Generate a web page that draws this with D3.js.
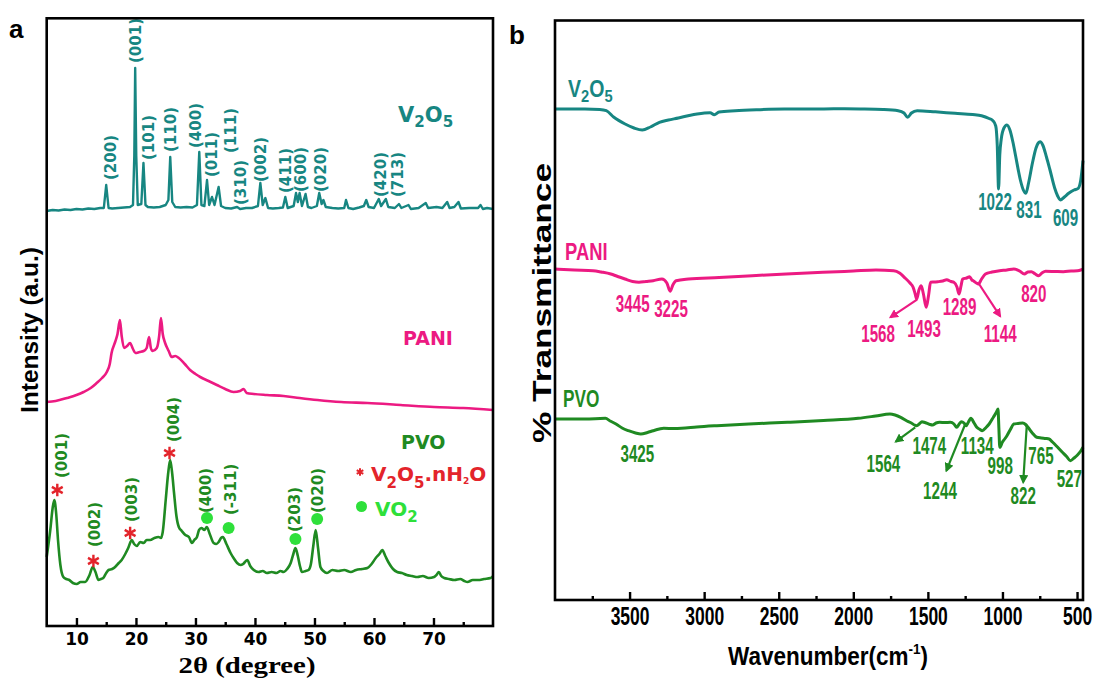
<!DOCTYPE html>
<html><head><meta charset="utf-8">
<script src="https://cdn.jsdelivr.net/npm/d3@7"></script>
<style>body{margin:0;background:#fff}</style>
</head><body>
<svg id="c" width="1095" height="679"></svg>
<script>
// ---------------- DATA ----------------
const xrdTicks = [10, 20, 30, 40, 50, 60, 70];
const xrdMinor = [15, 25, 35, 45, 55, 65, 75];
const ftirTicks = [3500, 3000, 2500, 2000, 1500, 1000, 500];
const ftirMinor = [3750, 3250, 2750, 2250, 1750, 1250, 750];

// XRD [2theta, intensity a.u.]
const xrdV2O5 = [[5,415],[6,416],[7,415.5],[8,416.5],[9,416],[10,417],[11,416.5],[12,417.5],[13,417],[14,418],[14.6,418],[15.0,441],[15.4,418],[16,417.5],[17,418],[18,418.5],[19,419],[19.5,421],[19.72,470],[19.87,558],[20.05,470],[20.3,421],[20.9,422],[21.26,463],[21.6,421],[22,419],[23,418.5],[24,419],[25,421],[25.45,426],[25.76,469],[26.1,424],[26.6,419],[27.5,418.5],[28.5,419],[29.5,418.5],[30.25,421],[30.64,474],[31.0,421],[31.5,420],[31.94,446],[32.3,421],[32.78,429],[33.2,421],[33.89,439],[34.3,420],[35,418],[36,417.5],[37.0,419],[37.5,417],[38.5,418],[39.5,418],[40.5,420],[40.9,443],[41.3,421],[41.75,428],[42.2,418],[43,417.5],[44,418],[44.7,418.5],[45.1,429],[45.5,418],[46.5,420],[46.9,433],[47.2,424],[47.5,433],[47.9,420],[48.5,432],[48.9,419],[49.5,418],[50.4,420],[50.8,433],[51.2,422],[51.5,426],[51.9,419],[53,418],[54,417.5],[55,418],[55.3,426],[55.7,418],[56.5,417],[57.5,418.5],[58.3,420],[58.7,426],[59.1,419],[60,418],[60.8,427],[61.2,420],[62.0,427],[62.4,419],[63.5,418],[64.2,422],[64.6,418],[65.8,421],[66.2,417],[67.5,418],[68.7,423],[69.1,418],[70.5,419],[71.5,418],[72.3,424],[72.7,418],[73.5,419],[74.2,424],[74.6,417.5],[76,418],[77.5,418],[77.9,421],[78.3,417],[79,418],[80,417]];

const xrdPANI = [[5.0,224],[6.5,225],[8.4,228],[10,231],[11.2,234],[12.4,238],[13.4,243],[14.3,248],[15.1,254],[15.6,262],[15.9,273],[16.5,284],[16.9,292],[17.3,306],[17.6,290],[18.0,278],[18.5,280],[19.0,283],[19.5,277],[19.9,273],[20.6,274],[21.3,275],[21.8,278],[22.2,289],[22.5,278],[22.8,275],[23.5,278],[23.9,290],[24.2,308],[24.5,292],[24.9,283],[25.5,275],[26.0,269],[26.6,270],[27.2,268],[28.2,262],[29.1,256],[30.0,252],[30.8,249],[32.2,245],[33.6,241],[35.0,237],[36.4,234],[37.5,235],[38.1,237],[38.6,233],[39.8,232],[42,231],[44.8,230],[47.5,228],[50.5,226],[54.5,224],[58.9,223],[64.5,221],[70.1,219],[75,218],[80.0,216]];

const xrdPVO = [[5.0,69],[5.6,96],[6.0,118],[6.28,126],[6.6,112],[6.9,86],[7.3,61],[7.8,49],[8.3,47],[8.8,46],[9.4,43],[10.05,42],[10.7,44],[11.45,44],[12.2,51],[12.74,59],[13.2,54],[13.7,46],[14.1,47],[14.5,48],[15.0,53],[15.4,56],[16.0,57],[16.5,59],[17.1,63],[17.6,66],[18.2,72],[18.7,78],[19.3,86],[19.7,82],[20.15,80],[20.7,84],[21.3,83],[21.8,86],[22.4,86],[23.1,88],[23.8,89],[24.2,88],[24.5,94],[25.0,126],[25.4,152],[25.75,166],[26.1,152],[26.4,133],[26.8,110],[27.2,99],[27.7,95],[28.3,91],[28.9,89],[29.4,83],[29.8,86],[30.25,89],[30.6,96],[31.0,98],[31.5,96],[31.9,99],[32.4,92],[33.05,83],[33.5,82],[33.9,84],[34.3,88],[34.6,89],[35.2,82],[35.9,73],[36.4,68],[37.0,63],[37.6,61],[38.0,62],[38.7,66],[39.2,60],[39.8,56],[40.6,54],[41.3,55],[42.0,53],[42.8,54],[43.6,53],[44.3,55],[44.8,54],[45.4,57],[46.0,63],[46.4,71],[46.8,78],[47.2,70],[47.6,59],[47.9,54],[48.5,55],[49.0,56],[49.4,62],[49.8,80],[50.2,96],[50.6,78],[51.0,59],[51.5,55],[52.1,53],[53.0,56],[54.0,55],[55.0,56],[56.1,54],[57.0,56],[58.0,57],[58.9,58],[59.6,62],[60.3,68],[60.9,72],[61.4,76],[61.9,70],[62.5,63],[63.2,57],[63.9,54],[64.7,53],[65.5,51],[66.4,50],[67.3,49],[68.2,50],[69.2,48],[70.1,49],[70.5,51],[70.9,54],[71.3,50],[71.8,48],[72.6,47],[73.5,46],[74.5,47],[75.2,45],[75.7,44],[76.6,46],[77.5,46],[78.5,47],[79.6,48],[80,50]];

// FTIR [wavenumber, transmittance a.u.]
const ftirV2O5 = [[4000,491],[3800,491],[3700,490.5],[3656,489.3],[3605,482.7],[3530,476],[3470,472],[3415,470],[3360,473],[3300,477.7],[3240,480],[3173,482],[3100,484.5],[3047,486],[2960,487.3],[2932,485.3],[2900,488],[2792,489.3],[2650,490.3],[2462,491],[2300,491],[2100,491.2],[1954,491],[1800,490.5],[1699,489.3],[1660,487],[1636,482.7],[1610,487],[1572,489.3],[1450,488.2],[1318,486.7],[1200,485.5],[1140,484.3],[1090,481.5],[1064,479.3],[1045,474],[1035,455],[1026,411],[1018,445],[1008,461],[990,472],[970,475],[950,470],[930,458],[912,444.3],[880,420],[860,410],[843,406.7],[825,417],[798,437.7],[775,452],[760,457],[747,458.3],[730,455],[705,443],[683,431],[650,412],[630,404],[612,400],[585,403],[556,406.7],[520,410],[492,411.7],[475,420],[460,439.3]];

const ftirPANI = [[4000,331],[3870,330],[3745,329.3],[3690,328],[3626,326],[3580,323.5],[3531,321],[3480,318.5],[3437,317.7],[3390,318.5],[3342,319.3],[3283,321],[3250,317],[3228,308.7],[3210,315],[3188,319.3],[3105,321],[2900,322.5],[2678,324.3],[2450,326],[2204,327.7],[2000,329],[1848,330],[1729,329.3],[1690,327],[1658,322.7],[1620,317],[1599,312.7],[1585,306],[1575,301],[1560,310],[1545,314.3],[1530,306],[1511,292.7],[1495,305],[1482,317.7],[1460,318],[1433,318.3],[1400,319],[1374,320.3],[1345,318.5],[1326,317.7],[1305,313],[1291,306],[1278,314],[1267,321],[1240,322],[1220,323.3],[1205,320],[1196,319.3],[1175,317],[1161,316],[1140,321],[1114,326],[1070,328],[1019,329.3],[970,330],[924,331],[885,329],[853,326],[830,328],[806,328.3],[780,326],[758,324.3],[735,327],[711,328.7],[650,328.5],[592,328.3],[540,329],[497,329.3],[475,330],[460,331]];

const ftirPVO = [[4000,181],[3800,181],[3662,181.7],[3630,179],[3591,176],[3550,172],[3508,169.3],[3460,167],[3425,166],[3380,167.5],[3342,169.3],[3300,171],[3271,171.7],[3200,171.5],[3152,171.7],[3050,173],[2915,174.3],[2700,176],[2441,177.7],[2200,179.5],[1967,181.7],[1850,184],[1754,186],[1720,185],[1682,182.7],[1640,179],[1611,177],[1590,175],[1575,174.3],[1555,176.5],[1540,178.3],[1520,177.5],[1504,176.7],[1485,175.5],[1469,175],[1445,177],[1421,177.7],[1385,177.5],[1350,177.7],[1325,176],[1307,172.7],[1290,176],[1275,178.3],[1258,177],[1244,174.3],[1228,178],[1212,181.7],[1190,177],[1172,172.7],[1150,170.5],[1136,169.3],[1110,172.5],[1089,176],[1060,183],[1040,188],[1030,191],[1024,172],[1018,152.7],[1000,158],[985,161],[970,164.3],[945,171],[924,176],[895,176.5],[864,177],[845,175.5],[829,172.7],[800,167],[770,162.7],[740,162],[710,161.5],[687,161],[665,158],[640,154.3],[600,148],[570,143.5],[545,139.3],[520,142],[497,145],[475,149],[460,152.7]];

// Peak annotations: [label, position on x data, position on y data]
const xrdV2O5Labels = [["(200)",15.66,446],["(001)",19.87,563],["(101)",22.05,466],["(110)",25.76,474],["(400)",29.97,478],["(011)",32.66,449],["(111)",35.86,473],["(310)",37.66,421],["(002)",40.9,444],["(411)",45.1,433],["(600)",47.64,434],["(020)",51.0,434],["(420)",61.1,429],["(713)",63.97,429]];
const xrdPVOLabels = [["(001)",7.53,148],["(002)",13.01,79],["(003)",19.19,104],["(004)",26.31,184],["(400)",31.65,113],["(-311)",35.86,111],["(203)",46.68,94],["(020)",50.45,113]];
const hydrateMarks = [[6.78,136],[12.85,65],[19.02,93],[25.64,173]];
const vo2Marks = [[31.94,108],[35.57,98],[46.8,87],[50.45,107]];

const ftirV2O5Labels = [["1022",1050,398],["831",822,390.5],["609",577,382]];
const ftirPANILabels = [["3445",3479,296],["3225",3222,291],["1568",1834,266],["1493",1526,271],["1289",1288,293.7],["1144",1015,266],["820",790,306]];
const ftirPVOLabels = [["3425",3448,146],["1564",1798,136],["1474",1490,154.3],["1244",1419,109.3],["1134",1169,154.3],["998",1015,134.3],["765",742,144.3],["822",861,104.3],["527",552,121]];
const ftirPANIArrows = [[1573,300.3,1751,282.7],[1157,316,1015,283.7]];
const ftirPVOArrows = [[1585,172.7,1715,158.3],[1252,175,1376,129.3],[837,174.3,861,117.7]];

// ---------------- DRAWING ----------------
const C = {teal:"#178682", pink:"#ec1a82", green:"#1f8a22", red:"#e3242b", lime:"#2ee03a"};
const svg = d3.select("#c");
const SANS = "'Liberation Sans', Arial, sans-serif";
const DV = "'DejaVu Sans', sans-serif";

const defs = svg.append("defs");
[["pink",C.pink],["green",C.green]].forEach(([n,col])=>{
  defs.append("marker").attr("id","arr-"+n).attr("viewBox","0 0 10 10").attr("refX",8).attr("refY",5)
    .attr("markerWidth",4.2).attr("markerHeight",4.2).attr("orient","auto-start-reverse")
    .append("path").attr("d","M0,0 L10,5 L0,10 Z").attr("fill",col);
});

function condText(x, y, str, size, sx, col, anchor, family){
  const g = svg.append("g").attr("transform",`translate(${x},${y}) scale(${sx},1)`);
  const t = g.append("text").attr("font-family",family||SANS).attr("font-weight","bold").attr("font-size",size)
    .attr("fill",col||"#000").attr("text-anchor",anchor||"start");
  if (str !== null) t.text(str);
  return t;
}

// ===== Panel a (XRD) =====
const xa = d3.scaleLinear([5, 80], [46.7, 493]);
const ya = d3.scaleLinear([0, 608], [626, 18]);
const lineA = d3.line().x(d=>xa(d[0])).y(d=>ya(d[1]));

svg.append("path").datum(xrdV2O5).attr("d",lineA).attr("fill","none").attr("stroke",C.teal).attr("stroke-width",2.4).attr("stroke-linejoin","round");
svg.append("path").datum(xrdPANI).attr("d",d3.line().x(d=>xa(d[0])).y(d=>ya(d[1])).curve(d3.curveMonotoneX)).attr("fill","none").attr("stroke",C.pink).attr("stroke-width",2.6);
svg.append("path").datum(xrdPVO).attr("d",d3.line().x(d=>xa(d[0])).y(d=>ya(d[1])).curve(d3.curveMonotoneX)).attr("fill","none").attr("stroke",C.green).attr("stroke-width",2.6).attr("stroke-linejoin","round");

function rotLabels(list, col, xs, ys){
  svg.append("g").selectAll("text").data(list).join("text")
    .attr("transform",d=>`translate(${xs(d[1])},${ys(d[2])}) rotate(-90)`)
    .attr("dy","0.36em").attr("font-family",DV).attr("font-weight","bold").attr("font-size",15)
    .attr("fill",col).text(d=>d[0]);
}
rotLabels(xrdV2O5Labels, C.teal, xa, ya);
rotLabels(xrdPVOLabels, C.green, xa, ya);

svg.append("g").selectAll("path").data(hydrateMarks).join("path")
  .attr("transform",d=>`translate(${xa(d[0])},${ya(d[1])})`)
  .attr("d",d3.symbol(d3.symbolAsterisk,110)).attr("stroke",C.red).attr("stroke-width",2.4).attr("fill","none");
svg.append("g").selectAll("circle").data(vo2Marks).join("circle")
  .attr("cx",d=>xa(d[0])).attr("cy",d=>ya(d[1])).attr("r",6).attr("fill",C.lime);

function subText(x, y, parts, size, col, family){
  const t = svg.append("text").attr("x",x).attr("y",y).attr("font-family",family).attr("font-weight","bold").attr("font-size",size).attr("fill",col);
  parts.forEach(p=>{
    t.append("tspan").attr("font-size",p[1]*size).attr("dy",p[2]).text(p[0]);
  });
  return t;
}
subText(398, 122, [["V",1,0],["2",0.72,5],["O",1,-5],["5",0.72,5]], 21, C.teal, DV);
svg.append("text").attr("x",403).attr("y",345).attr("font-family",DV).attr("font-weight","bold").attr("font-size",19).attr("fill",C.pink).text("PANI");
svg.append("text").attr("x",401).attr("y",448.5).attr("font-family",DV).attr("font-weight","bold").attr("font-size",19).attr("fill",C.green).text("PVO");
// legend
svg.append("path").attr("transform","translate(360,472)").attr("d",d3.symbol(d3.symbolAsterisk,40)).attr("stroke",C.red).attr("stroke-width",2).attr("fill","none");
subText(371, 481, [["V",1,0],["2",0.75,7],["O",1,-7],["5",0.75,7],[".nH",1,-7],["2",0.45,3],["O",1,-3]], 20, C.red, DV);
svg.append("circle").attr("cx",361.5).attr("cy",506.5).attr("r",5.5).attr("fill",C.lime);
subText(375, 516, [["VO",1,0],["2",0.75,6]], 20, C.lime, DV);

// axes panel a
const axA = svg.append("g").attr("transform","translate(0,626)");
axA.call(d3.axisBottom(xa).tickValues(xrdTicks).tickSizeInner(-8).tickSizeOuter(0).tickPadding(7).tickFormat(d3.format("d")));
axA.append("g").call(d3.axisBottom(xa).tickValues(xrdMinor).tickSizeInner(-4).tickSizeOuter(0).tickFormat(""));
axA.selectAll(".domain").remove();
axA.selectAll(".tick line").attr("stroke","#000").attr("stroke-width",2.4);
axA.selectAll(".tick text").attr("font-family",DV).attr("font-weight","bold").attr("font-size",17).attr("fill","#000");
svg.append("rect").attr("x",46.7).attr("y",18.3).attr("width",493-46.7).attr("height",626-18.3).attr("fill","none").attr("stroke","#000").attr("stroke-width",2.6);

svg.append("text").attr("x",247).attr("y",673).attr("text-anchor","middle").attr("font-family","'Liberation Serif', 'Times New Roman', serif").attr("font-weight","bold").attr("font-size",24).attr("textLength",137).attr("lengthAdjust","spacingAndGlyphs").text("2θ (degree)");
svg.append("text").attr("transform","translate(30,330) rotate(-90)").attr("dy","0.36em").attr("text-anchor","middle").attr("font-family",SANS).attr("font-weight","bold").attr("font-size",23).attr("textLength",166).attr("lengthAdjust","spacingAndGlyphs").text("Intensity (a.u.)");
svg.append("text").attr("x",9).attr("y",38).attr("font-family",SANS).attr("font-weight","bold").attr("font-size",26).text("a");

// ===== Panel b (FTIR) =====
const xb = d3.scaleLinear([4000, 460], [555, 1083]);
const yb = d3.scaleLinear([0, 580], [600, 20]);
const lineB = d3.line().x(d=>xb(d[0])).y(d=>yb(d[1])).curve(d3.curveMonotoneX);
[[ftirV2O5,C.teal],[ftirPANI,C.pink],[ftirPVO,C.green]].forEach(([data,col])=>{
  svg.append("path").datum(data).attr("d",lineB).attr("fill","none").attr("stroke",col).attr("stroke-width",3).attr("stroke-linejoin","round");
});

function numLabels(list, col){
  svg.append("g").selectAll("g").data(list).join("g")
    .attr("transform",d=>`translate(${xb(d[1])},${yb(d[2])}) scale(0.66,1)`)
    .append("text").attr("dy","0.36em").attr("text-anchor","middle")
    .attr("font-family",SANS).attr("font-weight","bold").attr("font-size",23).attr("fill",col).text(d=>d[0]);
}
numLabels(ftirV2O5Labels, C.teal);
numLabels(ftirPANILabels, C.pink);
numLabels(ftirPVOLabels, C.green);

function arrows(list, col, id){
  svg.append("g").selectAll("line").data(list).join("line")
    .attr("x1",d=>xb(d[0])).attr("y1",d=>yb(d[1])).attr("x2",d=>xb(d[2])).attr("y2",d=>yb(d[3]))
    .attr("stroke",col).attr("stroke-width",2.2).attr("marker-end",`url(#${id})`);
}
arrows(ftirPANIArrows, C.pink, "arr-pink");
arrows(ftirPVOArrows, C.green, "arr-green");

const vb = condText(568, 97, null, 23, 0.85, C.teal);
[["V",1,0],["2",0.75,5],["O",1,-5],["5",0.75,5]].forEach(p=>vb.append("tspan").attr("font-size",p[1]*23).attr("dy",p[2]).text(p[0]));
condText(565, 259.5, "PANI", 23, 0.8, C.pink);
condText(563, 406.5, "PVO", 23, 0.75, C.green);

const axB = svg.append("g").attr("transform","translate(0,600)");
axB.call(d3.axisBottom(xb).tickValues(ftirTicks).tickSizeInner(-8).tickSizeOuter(0).tickPadding(7).tickFormat(d3.format("d")));
axB.append("g").call(d3.axisBottom(xb).tickValues(ftirMinor).tickSizeInner(-4).tickSizeOuter(0).tickFormat(""));
axB.selectAll(".domain").remove();
axB.selectAll(".tick line").attr("stroke","#000").attr("stroke-width",2.4);
axB.selectAll(".tick text").attr("font-family",SANS).attr("font-weight","bold").attr("font-size",25).attr("fill","#000")
  .attr("transform","scale(0.7,1)").attr("x",0);
svg.append("rect").attr("x",555).attr("y",20.5).attr("width",1083-555).attr("height",600-20.5).attr("fill","none").attr("stroke","#000").attr("stroke-width",2.6);

const wt = condText(828, 665, null, 25, 0.9, "#000", "middle");
wt.append("tspan").text("Wavenumber(cm");
wt.append("tspan").attr("font-size",15).attr("dy",-11).text("-1");
wt.append("tspan").attr("dy",11).text(")");
svg.append("text").attr("transform","translate(542,303) rotate(-90)").attr("dy","0.36em").attr("text-anchor","middle").attr("font-family",SANS).attr("font-weight","bold").attr("font-size",25).attr("textLength",280).attr("lengthAdjust","spacingAndGlyphs").text("% Transmittance");
svg.append("text").attr("x",509).attr("y",44).attr("font-family",SANS).attr("font-weight","bold").attr("font-size",26).text("b");
</script>
</body></html>
